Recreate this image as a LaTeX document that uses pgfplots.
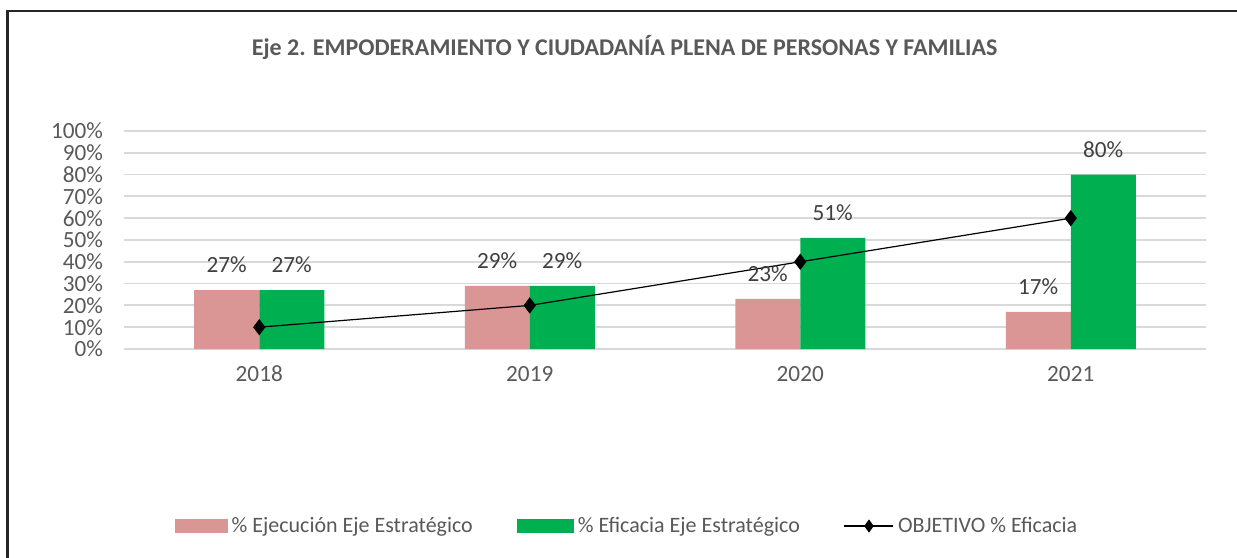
\documentclass[border=0pt]{standalone}
\usepackage{pgfplots}
\pgfplotsset{compat=1.18}
\usepackage{fontspec}
\setmainfont{Carlito}
\definecolor{pinkbar}{RGB}{218,150,148}
\definecolor{greenbar}{RGB}{0,176,80}
\definecolor{txtgray}{RGB}{89,89,89}
\definecolor{lblgray}{RGB}{64,64,64}
\definecolor{gridgray}{RGB}{217,217,217}
\begin{document}
\begin{tikzpicture}
\useasboundingbox (0,0) rectangle (618.5bp,279bp);
\draw[line width=1.1bp,black!85] (3.75bp,0) -- (3.75bp,273.5bp) -- (618.5bp,273.5bp);
\node[font=\fontsize{12bp}{14bp}\selectfont\bfseries,text=txtgray] at (312.3bp,255.5bp) {Eje 2. EMPODERAMIENTO Y CIUDADANÍA PLENA DE PERSONAS Y FAMILIAS};
\begin{axis}[
  at={(62bp,104.5bp)}, anchor=south west,
  scale only axis, width=541bp, height=109bp,
  xmin=-0.5, xmax=3.5, ymin=0, ymax=100,
  xtick={0,1,2,3}, xticklabels={2018,2019,2020,2021},
  ytick={0,10,...,100},
  yticklabel={\pgfmathprintnumber{\tick}\%},
  /pgf/number format/assume math mode=true,
  axis line style={draw=none},
  major tick length=0pt,
  ymajorgrids, grid style={gridgray,line width=0.9bp},
  tick label style={font=\fontsize{11.6bp}{13bp}\selectfont,text=txtgray},
  yticklabel style={xshift=-7bp},
  xticklabel style={yshift=-5bp},
  clip=false,
  legend columns=3,
  legend style={at={(0.4658,-0.812)},anchor=center,draw=none,fill=none,
    font=\fontsize{11bp}{13bp}\selectfont,text=txtgray,
    /tikz/every even column/.append style={column sep=20bp},
    inner sep=0pt},
  legend cell align=left,
]
\addplot[ybar, bar width=32.5bp, bar shift=-16.25bp, fill=pinkbar, draw=none,
  nodes near coords={\pgfmathprintnumber{\pgfplotspointmeta}\%},
  every node near coord/.style={anchor=center,xshift=-16.25bp,yshift=12.5bp,font=\fontsize{11.6bp}{13bp}\selectfont,text=lblgray},
  legend image code/.code={\fill[pinkbar] (0bp,-3.3bp) rectangle (26.5bp,3.3bp);}]
  coordinates {(0,27) (1,29) (2,23) (3,17)};
\addlegendentry{\% Ejecución Eje Estratégico}
\addplot[ybar, bar width=32.5bp, bar shift=16.25bp, fill=greenbar, draw=none,
  nodes near coords={\pgfmathprintnumber{\pgfplotspointmeta}\%},
  every node near coord/.style={anchor=center,xshift=16.25bp,yshift=12.5bp,font=\fontsize{11.6bp}{13bp}\selectfont,text=lblgray},
  legend image code/.code={\fill[greenbar] (0bp,-3.3bp) rectangle (28.5bp,3.3bp);}]
  coordinates {(0,27) (1,29) (2,51) (3,80)};
\addlegendentry{\% Eficacia Eje Estratégico}
\addplot[sharp plot, black, line width=0.6bp, mark=diamond*, mark size=3.6bp,
  mark options={fill=black},
  legend image code/.code={\draw[black,line width=0.6bp] (0bp,0bp) -- (24.5bp,0bp);
    \fill[black] (12.25bp,2.8bp) -- (14.25bp,0bp) -- (12.25bp,-2.8bp) -- (10.25bp,0bp) -- cycle;}]
  coordinates {(0,10) (1,20) (2,40) (3,60)};
\addlegendentry{OBJETIVO \% Eficacia}
\end{axis}
\end{tikzpicture}
\end{document}
